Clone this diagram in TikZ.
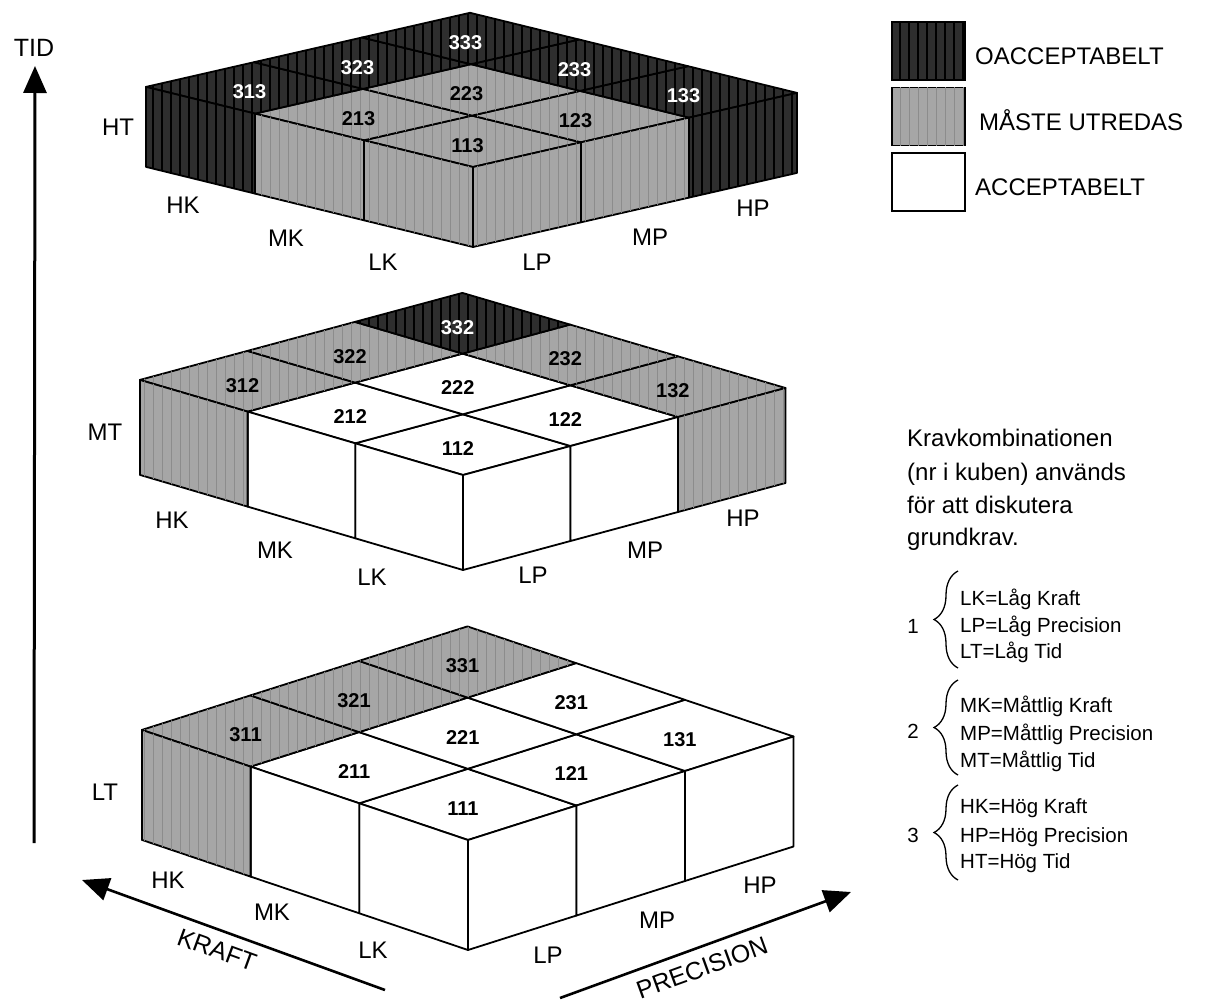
\documentclass[tikz,border=0pt]{standalone}
\usepackage{fontspec}
\setmainfont{Liberation Sans}
\usetikzlibrary{arrows.meta,decorations.pathreplacing,patterns.meta}
\definecolor{darkc}{HTML}{2E2E2E}
\definecolor{grayc}{HTML}{A6A6A6}
\tikzset{
  cell/.style={draw=black,line width=1.8pt,line join=round},
  dk/.style={fill=darkc,postaction={pattern={Lines[angle=90,distance=9pt,line width=1.4pt]},pattern color=black}},
  gy/.style={fill=grayc,postaction={pattern={Lines[angle=90,distance=9pt,line width=0.9pt]},pattern color=black!45}},
  wt/.style={fill=white},
  num/.style={font=\fontsize{20}{20}\selectfont\bfseries,inner sep=0pt,xshift=-5pt,yshift=-4pt},
  axlab/.style={font=\fontsize{24}{24}\selectfont,inner sep=0pt},
  leg/.style={font=\fontsize{24}{24}\selectfont,inner sep=0pt,anchor=base west},
  para/.style={font=\fontsize{24}{24}\selectfont,inner sep=0pt,anchor=base west},
  lst/.style={font=\fontsize{20.5}{20.5}\selectfont,inner sep=0pt,anchor=base west},
  legbox/.style={draw=black,line width=1.8pt,minimum width=73pt,minimum height=58pt,inner sep=0pt},
  axisarrow/.style={line width=2.6pt,-{Triangle[length=27pt,width=23pt]}},
  brc/.style={line width=1.3pt,decorate,decoration={brace,amplitude=24pt}}
}
\newcommand\layercells[4]{%
  \foreach \i/\j/\c/\tc in {#2}{%
    \filldraw[cell,\c] (\i-1,\j-1,0) -- (\i,\j-1,0) -- (\i,\j,0) -- (\i-1,\j,0) -- cycle;
  }%
  \foreach \i/\c in {#3}{%
    \filldraw[cell,\c] (\i-1,0,0) -- (\i,0,0) -- (\i,0,-1) -- (\i-1,0,-1) -- cycle;
  }%
  \foreach \j/\c in {#4}{%
    \filldraw[cell,\c] (0,\j-1,0) -- (0,\j,0) -- (0,\j,-1) -- (0,\j-1,-1) -- cycle;
  }%
  \foreach \i/\j/\c/\tc in {#2}{%
    \node[num,text=\tc] (c\i\j#1) at (\i-0.5,\j-0.5,0) {\i\j#1};
  }%
}
\begin{document}
\begin{tikzpicture}[x=1pt,y=-1pt]
\useasboundingbox (0,0) rectangle (1209,1003);
\fill[white] (0,0) rectangle (1209,1003);

% ---- top layer (HT)
\begin{scope}[shift={(473,167)},x={(-109pt,26.7pt)},y={(108pt,24.7pt)},z={(0pt,80pt)}]
\layercells{3}{1/1/gy/black,1/2/gy/black,1/3/dk/white,2/1/gy/black,2/2/gy/black,2/3/dk/white,3/1/dk/white,3/2/dk/white,3/3/dk/white}{1/gy,2/gy,3/dk}{1/gy,2/gy,3/dk}
\end{scope}

% ---- middle layer (MT)
\begin{scope}[shift={(463,475)},x={(-107.7pt,31.7pt)},y={(107.5pt,29pt)},z={(0pt,95pt)}]
\layercells{2}{1/1/wt/black,1/2/wt/black,1/3/gy/black,2/1/wt/black,2/2/wt/black,2/3/gy/black,3/1/gy/black,3/2/gy/black,3/3/dk/white}{1/wt,2/wt,3/gy}{1/wt,2/wt,3/gy}
\end{scope}

% ---- bottom layer (LT)
\begin{scope}[shift={(468,840)},x={(-108.7pt,36.7pt)},y={(108.5pt,34.5pt)},z={(0pt,110pt)}]
\layercells{1}{1/1/wt/black,1/2/wt/black,1/3/wt/black,2/1/wt/black,2/2/wt/black,2/3/wt/black,3/1/gy/black,3/2/gy/black,3/3/gy/black}{1/wt,2/wt,3/gy}{1/wt,2/wt,3/wt}
\end{scope}

% ---- layer labels
\node[axlab] (tHT) at (118,127) {HT};
\node[axlab] (tHK) at (183,205) {HK};
\node[axlab] (tMK) at (286,238) {MK};
\node[axlab] (tLK) at (383,262) {LK};
\node[axlab] (tLP) at (537,262) {LP};
\node[axlab] (tMP) at (650,237) {MP};
\node[axlab] (tHP) at (753,208) {HP};

\node[axlab] (mMT) at (105,432) {MT};
\node[axlab] (mHK) at (172,520) {HK};
\node[axlab] (mMK) at (275,550) {MK};
\node[axlab] (mLK) at (372,577) {LK};
\node[axlab] (mLP) at (533,575) {LP};
\node[axlab] (mMP) at (645,550) {MP};
\node[axlab] (mHP) at (743,518) {HP};

\node[axlab] (bLT) at (105,792) {LT};
\node[axlab] (bHK) at (168,880) {HK};
\node[axlab] (bMK) at (272,912) {MK};
\node[axlab] (bLK) at (373,950) {LK};
\node[axlab] (bLP) at (548,955) {LP};
\node[axlab] (bMP) at (657,920) {MP};
\node[axlab] (bHP) at (760,885) {HP};

% ---- axes
\coordinate (tidS) at (34,843);
\coordinate (tidE) at (35,66);
\draw[axisarrow,line width=3pt] (tidS) -- (tidE);
\node[axlab,font=\fontsize{25}{25}\selectfont] (tid) at (34,48) {TID};

\coordinate (krS) at (385,990);
\coordinate (krE) at (82,880);
\draw[axisarrow] (krS) -- (krE);
\node[axlab,font=\fontsize{25}{25}\selectfont,rotate=-20] (kraft) at (217,950) {KRAFT};

\coordinate (prS) at (560,998);
\coordinate (prE) at (851,892);
\draw[axisarrow] (prS) -- (prE);
\node[axlab,font=\fontsize{25}{25}\selectfont,rotate=20] (prec) at (702,968) {PRECISION};

% ---- legend
\node[legbox,dk] (lb1) at (928.5,51) {};
\node[legbox,gy] (lb2) at (928.5,116.5) {};
\node[legbox,wt] (lb3) at (928.5,182) {};
\node[leg] (lt1) at (975,65) {OACCEPTABELT};
\node[leg] (lt2) at (979,131) {MÅSTE UTREDAS};
\node[leg] (lt3) at (975,195) {ACCEPTABELT};

% ---- explanation
\node[para] (p1) at (907,446) {Kravkombinationen};
\node[para] (p2) at (907,480) {(nr i kuben) används};
\node[para] (p3) at (907,513) {för att diskutera};
\node[para] (p4) at (907,545) {grundkrav.};

\node[lst,anchor=base] (n1) at (913,633) {1};
\draw[brc] (958,668) -- (958,571);
\node[lst] (l11) at (960,605) {LK=Låg Kraft};
\node[lst] (l12) at (960,632) {LP=Låg Precision};
\node[lst] (l13) at (960,658) {LT=Låg Tid};

\node[lst,anchor=base] (n2) at (913,738) {2};
\draw[brc] (958,775) -- (958,680);
\node[lst] (l21) at (960,712) {MK=Måttlig Kraft};
\node[lst] (l22) at (960,740) {MP=Måttlig Precision};
\node[lst] (l23) at (960,767) {MT=Måttlig Tid};

\node[lst,anchor=base] (n3) at (913,842) {3};
\draw[brc] (958,880) -- (958,785);
\node[lst] (l31) at (960,813) {HK=Hög Kraft};
\node[lst] (l32) at (960,842) {HP=Hög Precision};
\node[lst] (l33) at (960,868) {HT=Hög Tid};
\end{tikzpicture}
\end{document}
